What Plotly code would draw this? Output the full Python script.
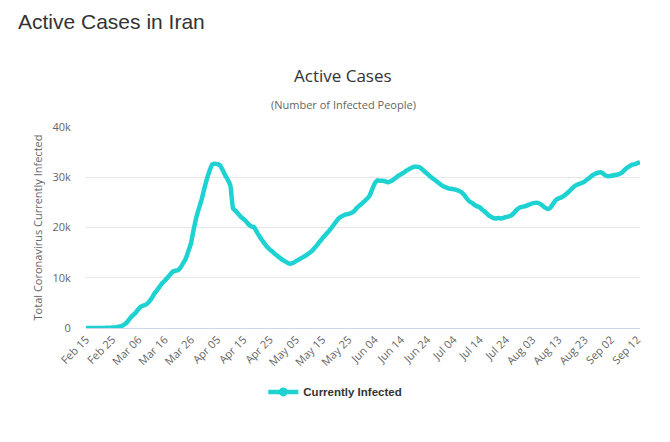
import datetime as dt
import plotly.graph_objects as go

start_date = "2020-02-15"
active_cases = [
    0, 0, 0, 0, 2, 5, 16, 23, 39, 49,                      # Feb 15 - Feb 24
    80, 110, 200, 310, 520,                                # Feb 25 - Feb 29
    840, 1400, 2100, 2600, 3100, 3800, 4300, 4500, 4700, 5200,   # Mar 1 - Mar 10
    5900, 6800, 7500, 8200, 8900, 9400, 10000, 10600, 11200, 11400,  # Mar 11 - Mar 20
    11500, 12000, 12900, 13800, 15300, 16900, 19600, 22000, 23800, 25500, 27600,  # Mar 21 - Mar 31
    29600, 31200, 32500, 32700, 32600, 32400, 31500, 30400, 29500, 28300,  # Apr 1 - Apr 10
    23800, 23300, 22700, 22100, 21700, 21200, 20600, 20200, 20100, 19200,  # Apr 11 - Apr 20
    18300, 17500, 16800, 16100, 15600, 15200, 14700, 14300, 13900, 13500,  # Apr 21 - Apr 30
    13200, 12900, 12800, 13000, 13300, 13600, 13900, 14200, 14500, 14900,  # May 1 - May 10
    15300, 15900, 16500, 17200, 17800, 18400, 19000, 19600, 20300, 21000,  # May 11 - May 20
    21700, 22100, 22400, 22600, 22700, 22900, 23200, 23800, 24300, 24700, 25200,  # May 21 - May 31
    25700, 26300, 27600, 28800, 29400, 29300, 29300, 29200, 29000, 29200,  # Jun 1 - Jun 10
    29500, 29900, 30300, 30600, 30900, 31300, 31600, 31900, 32100, 32100,  # Jun 11 - Jun 20
    32000, 31600, 31100, 30700, 30200, 29800, 29400, 29000, 28600, 28200,  # Jun 21 - Jun 30
    28000, 27800, 27700, 27600, 27500, 27300, 27000, 26500, 25800, 25200,  # Jul 1 - Jul 10
    24900, 24500, 24200, 24000, 23500, 23100, 22600, 22200, 21900, 21800,  # Jul 11 - Jul 20
    21900, 21800, 21900, 22100, 22200, 22400, 22900, 23500, 23900, 24100, 24200,  # Jul 21 - Jul 31
    24400, 24600, 24800, 24900, 24900, 24700, 24300, 23900, 23700, 24000,  # Aug 1 - Aug 10
    24800, 25500, 25800, 26000, 26300, 26700, 27200, 27700, 28200, 28500,  # Aug 11 - Aug 20
    28700, 28900, 29200, 29600, 30000, 30400, 30700, 30900, 31000, 30700, 30300,  # Aug 21 - Aug 31
    30200, 30300, 30400, 30500, 30600, 30900, 31400, 31900, 32200, 32500,  # Sep 1 - Sep 10
    32600, 32800, 33000,                                   # Sep 11 - Sep 13
]
tick_labels = ["Feb 15", "Feb 25", "Mar 06", "Mar 16", "Mar 26", "Apr 05", "Apr 15",
               "Apr 25", "May 05", "May 15", "May 25", "Jun 04", "Jun 14", "Jun 24",
               "Jul 04", "Jul 14", "Jul 24", "Aug 03", "Aug 13", "Aug 23", "Sep 02", "Sep 12"]
y_ticks = [0, 10000, 20000, 30000, 40000]
y_tick_labels = ["0", "10k", "20k", "30k", "40k"]
series_name = "Currently Infected"

d0 = dt.date.fromisoformat(start_date)
dates = [d0 + dt.timedelta(days=i) for i in range(len(active_cases))]
tick_vals = [d0 + dt.timedelta(days=10 * i) for i in range(len(tick_labels))]

FONT = "Open Sans, DejaVu Sans, sans-serif"
SANS = "Liberation Sans, Arial, sans-serif"
COLOR = "#1ed2d2"

fig = go.Figure()
fig.add_trace(go.Scatter(
    x=dates, y=active_cases, mode="lines", name=series_name, showlegend=False,
    line=dict(color=COLOR, width=4.5, shape="spline", smoothing=0.3),
))
# legend entry (Highcharts-style line + circle symbol)
fig.add_trace(go.Scatter(
    x=[None], y=[None], mode="lines+markers", name="<b>" + series_name + "</b>",
    line=dict(color=COLOR, width=4.5), marker=dict(color=COLOR, size=9),
))

fig.update_layout(
    width=670, height=442,
    margin=dict(l=78, r=38, t=119, b=122),
    paper_bgcolor="white", plot_bgcolor="white",
    font=dict(family=FONT, color="#666666", size=11),
    title=dict(text="Active Cases in Iran", x=10 / 670, xanchor="left",
               y=1 - 14 / 442, yanchor="middle",
               font=dict(family=SANS, size=21, color="#333333")),
    showlegend=True,
    legend=dict(orientation="h", x=0.45, xanchor="center", y=-0.318, yanchor="middle",
                font=dict(family=SANS, size=11.5, color="#333333"),
                itemwidth=30),
    xaxis=dict(
        range=[dates[0], dates[-1]], tickvals=tick_vals, ticktext=tick_labels,
        tickangle=-45, showgrid=False, showline=True, linecolor="#ccd6eb", linewidth=1,
        ticks="", tickfont=dict(size=11, color="#666666"), zeroline=False,
    ),
    yaxis=dict(
        range=[0, 40000], tickvals=y_ticks, ticktext=y_tick_labels,
        showgrid=True, gridcolor="#e6e6e6", gridwidth=1, zeroline=False,
        ticks="outside", ticklen=12, tickcolor="rgba(0,0,0,0)",
        tickfont=dict(size=11, color="#666666"),
        title=dict(text="Total Coronavirus Currently Infected", standoff=7,
                   font=dict(size=11, color="#666666")),
    ),
    annotations=[
        dict(text="Active Cases", xref="paper", yref="paper", x=(343 - 86) / 554,
             y=(328 - 76) / 201, xanchor="center", yanchor="middle", showarrow=False,
             font=dict(family=FONT, size=17, color="#333333")),
        dict(text="(Number of Infected People)", xref="paper", yref="paper", x=(343 - 86) / 554,
             y=(328 - 104) / 201, xanchor="center", yanchor="middle", showarrow=False,
             font=dict(family=FONT, size=11, color="#666666")),
    ],
)

fig.write_html("out.html")
